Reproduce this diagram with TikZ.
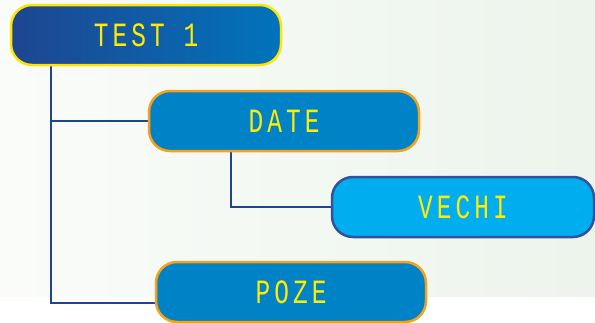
\documentclass[tikz,border=0pt]{standalone}
\usepackage{fontspec}
\newfontfamily\lcdfont[FakeStretch=0.72, LetterSpace=12]{Liberation Mono}
\usepackage{xcolor}
\usetikzlibrary{backgrounds}
\definecolor{bgleft}{RGB}{250,252,249}
\definecolor{bgright}{RGB}{236,244,236}
\definecolor{navy}{RGB}{31,69,144}
\definecolor{midblue}{RGB}{0,116,188}
\definecolor{boxblue}{RGB}{0,130,198}
\definecolor{skyblue}{RGB}{0,174,239}
\definecolor{rimblue}{RGB}{52,81,156}
\definecolor{rimyellow}{RGB}{255,230,0}
\definecolor{rimorange}{RGB}{247,161,26}
\definecolor{lcdyellow}{RGB}{255,236,0}
\tikzset{
  branch/.style={rounded corners=21pt, minimum width=270pt, minimum height=60pt,
    line width=2.5pt, text=lcdyellow, font=\lcdfont\fontsize{34}{34}\selectfont},
  link/.style={draw=navy, line width=2.2pt}
}

\begin{document}
\begin{tikzpicture}[x=1pt,y=-1pt]
\useasboundingbox (0,0) rectangle (595,322);
\node[branch, left color=navy, right color=midblue, draw=rimyellow] (test) at (146,35) {TEST 1};
\node[branch, fill=boxblue, draw=rimorange] (date) at (284,121) {DATE};
\node[branch, fill=skyblue, draw=rimblue, minimum width=262pt] (vechi) at (463,207) {VECHI};
\node[branch, fill=boxblue, draw=rimorange] (poze) at (291,292) {POZE};
% tree links behind the boxes
\begin{pgfonlayer}{background}
\shade[left color=bgleft, right color=bgright] (0,0) rectangle (595,296);
\coordinate (trunk) at ([xshift=-95pt]test.south);
\coordinate (stem) at ([xshift=-53pt]date.south);
\draw[link] (trunk) |- ([yshift=-11pt]poze.west);
\draw[link] (trunk |- date.west) -- (date.west);
\draw[link] (stem) |- (vechi.west);
\end{pgfonlayer}
\end{tikzpicture}
\end{document}
